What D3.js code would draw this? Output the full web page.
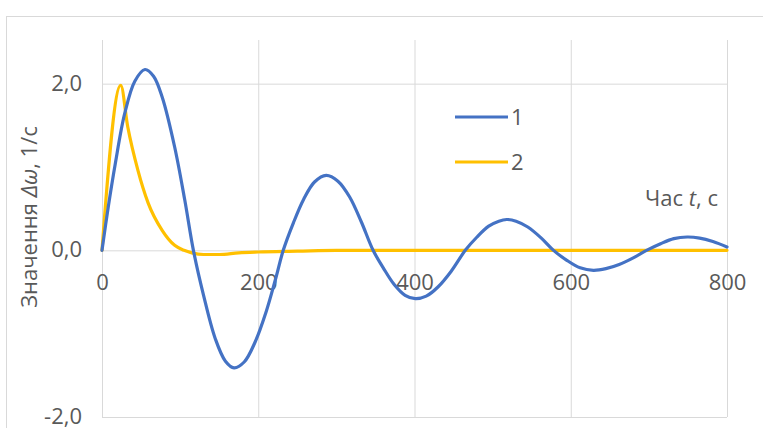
<!DOCTYPE html>
<html>
<head>
<meta charset="utf-8">
<script src="https://cdn.jsdelivr.net/npm/d3@7"></script>
<style>
  html, body { margin: 0; padding: 0; background: #fff; }
  svg { display: block; font-family: "Open Sans", "Noto Sans", sans-serif; }
</style>
</head>
<body>
<svg id="chart" width="763" height="428"></svg>
<script>
// Time samples (s) and values of ΔΩ (1/s) for the two cases
const t1 = [0, 8, 17, 29, 42, 55, 66, 77, 93, 106, 117, 130, 145, 158, 169, 182, 196, 210, 222, 232,
            245, 258, 272, 287, 302, 317, 332, 347, 360, 374, 388, 401, 415, 430, 447, 465,
            480, 495, 508, 518, 530, 545, 562, 578, 595, 612, 629, 645, 662, 680, 697,
            715, 732, 749, 765, 782, 800];
const v1 = [0, 0.52, 1.04, 1.64, 2.03, 2.17, 2.09, 1.84, 1.24, 0.6, 0, -0.54, -1.06, -1.33, -1.41, -1.34, -1.1, -0.74, -0.35, 0,
            0.33, 0.61, 0.82, 0.9, 0.83, 0.64, 0.34, 0, -0.21, -0.41, -0.54, -0.58, -0.55, -0.44, -0.25, 0,
            0.16, 0.29, 0.35, 0.37, 0.35, 0.28, 0.15, 0, -0.12, -0.21, -0.24, -0.22, -0.17, -0.09, 0,
            0.08, 0.14, 0.16, 0.147, 0.105, 0.04];

const t2 = [0, 2, 24, 33, 46, 59, 77, 93, 105, 115, 130, 150, 175, 200, 250, 300, 400, 500, 600, 700, 800];
const v2 = [0, 0.25, 1.98, 1.48, 0.96, 0.57, 0.24, 0.06, 0, -0.03, -0.05, -0.05, -0.03, -0.02, -0.01, 0, 0, 0, 0, 0, 0];

const seriesNames = ["1", "2"];
const seriesColors = ["#4472C4", "#FFC000"];

const xTicks = [0, 200, 400, 600, 800];
const yTicks = [-2, 0, 2];
const xMin = 0, xMax = 800;
const yMin = -2, yMax = 2.5;

const yTitle = "Значення ";
const yTitleSym = "Δω";
const yTitleUnit = ", 1/с";
const xTitle = "Час ";
const xTitleSym = "t";
const xTitleUnit = ", с";

const svg = d3.select("#chart");
const textColor = "#595959";
const gridColor = "#D9D9D9";

// chart frame
svg.append("rect")
  .attr("x", 6.5).attr("y", 16.5)
  .attr("width", 820).attr("height", 460)
  .attr("fill", "#fff")
  .attr("stroke", "#D9D9D9").attr("stroke-width", 1);

const plot = { left: 102, right: 727, top: 40, bottom: 417 };

const x = d3.scaleLinear().domain([xMin, xMax]).range([plot.left, plot.right]);
const y = d3.scaleLinear().domain([yMin, yMax]).range([plot.bottom, plot.top + 2]);

const locale = d3.formatLocale({ decimal: ",", thousands: " ", grouping: [3], currency: ["", ""], minus: "-" });
const fmtY = locale.format(".1f");

// vertical gridlines
svg.append("g")
  .attr("transform", `translate(0,${plot.top})`)
  .call(d3.axisBottom(x).tickValues(xTicks).tickSize(plot.bottom - plot.top).tickFormat(""))
  .call(g => g.select(".domain").remove())
  .call(g => g.selectAll("line").attr("stroke", gridColor).attr("stroke-width", 1));

// horizontal gridlines
svg.append("g")
  .attr("transform", `translate(${plot.left},0)`)
  .call(d3.axisRight(y).tickValues(yTicks).tickSize(plot.right - plot.left).tickFormat(""))
  .call(g => g.select(".domain").remove())
  .call(g => g.selectAll("line").attr("stroke", gridColor).attr("stroke-width", 1));

// y tick labels
svg.append("g")
  .attr("transform", `translate(${plot.left},0)`)
  .call(d3.axisLeft(y).tickValues(yTicks).tickSize(0).tickPadding(20).tickFormat(fmtY))
  .call(g => g.select(".domain").remove())
  .call(g => g.selectAll("text")
    .attr("fill", textColor).attr("dy", "0.3em").style("font-size", "22px")
    .style("font-family", "'Open Sans', sans-serif"));

// x tick labels, drawn at the zero line
svg.append("g")
  .attr("transform", `translate(0,${y(0)})`)
  .call(d3.axisBottom(x).tickValues(xTicks).tickSize(0).tickPadding(24).tickFormat(d3.format("d")))
  .call(g => g.select(".domain").remove())
  .call(g => g.selectAll("text")
    .attr("fill", textColor).style("font-size", "22px")
    .style("font-family", "'Open Sans', sans-serif"));

// series
const data1 = t1.map((t, i) => [t, v1[i]]);
const data2 = t2.map((t, i) => [t, v2[i]]);
const smooth = d3.line().x(d => x(d[0])).y(d => y(d[1])).curve(d3.curveCatmullRom.alpha(0.5));
const mono = d3.line().x(d => x(d[0])).y(d => y(d[1])).curve(d3.curveMonotoneX);

svg.append("path").datum(data2)
  .attr("d", mono).attr("fill", "none")
  .attr("stroke", seriesColors[1]).attr("stroke-width", 3.2)
  .attr("stroke-linejoin", "round").attr("stroke-linecap", "round");

svg.append("path").datum(data1)
  .attr("d", smooth).attr("fill", "none")
  .attr("stroke", seriesColors[0]).attr("stroke-width", 3.2)
  .attr("stroke-linejoin", "round").attr("stroke-linecap", "round");

// legend
const legend = svg.append("g").attr("transform", "translate(455,117)");
seriesNames.forEach((name, i) => {
  const g = legend.append("g").attr("transform", `translate(0,${i * 45})`);
  g.append("line").attr("x1", 0).attr("x2", 53).attr("y1", 0).attr("y2", 0)
    .attr("stroke", seriesColors[i]).attr("stroke-width", 3.2);
  g.append("text").attr("x", 56).attr("y", 0).attr("dy", "0.35em")
    .attr("fill", textColor).style("font-size", "22px").text(name);
});

// axis titles
const yt = svg.append("text")
  .attr("transform", "translate(37,217) rotate(-90)")
  .attr("text-anchor", "middle")
  .attr("fill", textColor).style("font-size", "22px");
yt.append("tspan").text(yTitle);
yt.append("tspan").style("font-style", "italic").text(yTitleSym);
yt.append("tspan").text(yTitleUnit);

const xt = svg.append("text")
  .attr("x", 718).attr("y", 206)
  .attr("text-anchor", "end")
  .attr("fill", textColor).style("font-size", "22px");
xt.append("tspan").text(xTitle);
xt.append("tspan").style("font-style", "italic").text(xTitleSym);
xt.append("tspan").text(xTitleUnit);
</script>
</body>
</html>
